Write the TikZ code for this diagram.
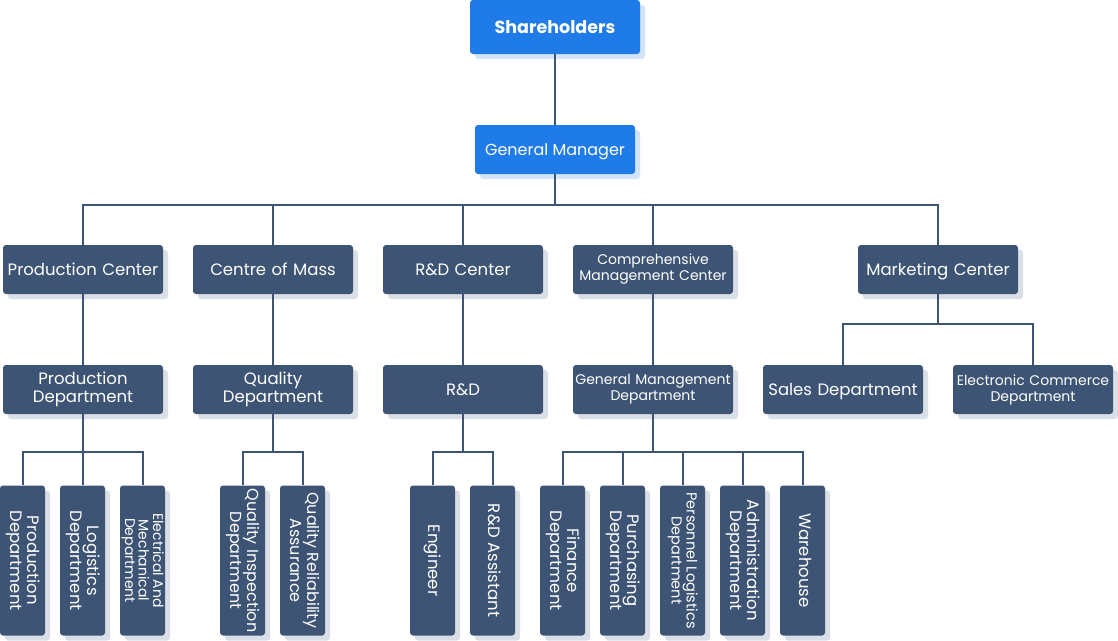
\documentclass[tikz,border=0pt]{standalone}
\usepackage{fontspec}
\usepackage{graphicx}
\setmainfont{Poppins}
\usetikzlibrary{shadows}
\definecolor{boxdark}{HTML}{3D5475}
\definecolor{boxblue}{HTML}{1F7BE8}
\definecolor{shblue}{HTML}{D3E4F9}
\definecolor{shgray}{HTML}{DADFE6}
\tikzset{
  base/.style={rounded corners=3pt, text=white, align=center, inner sep=1pt},
  topbox/.style={base, fill=boxblue, drop shadow={shadow xshift=5pt, shadow yshift=-5pt, fill=shblue, opacity=1}},
  unit/.style={base, fill=boxdark, minimum width=160pt, minimum height=49pt, text width=158pt,
     drop shadow={shadow xshift=5pt, shadow yshift=-5pt, fill=shgray, opacity=1}},
  vunit/.style={base, fill=boxdark, minimum width=45pt, minimum height=150pt,
     drop shadow={shadow xshift=5pt, shadow yshift=-5pt, fill=shgray, opacity=1}},
  conn/.style={draw=boxdark, line width=2pt},
  big/.style={font=\fontsize{16.5}{18}\selectfont},
  oneline/.style={text height=11.5pt, text depth=0pt},
  mid/.style={font=\fontsize{14}{16}\selectfont},
  vbig/.style={font=\fontsize{16.5}{17.5}\selectfont},
}
\newcommand{\vtext}[1]{\rotatebox{-90}{\begin{tabular}{@{}c@{}}#1\end{tabular}}}
\begin{document}
\begin{tikzpicture}[x=1pt,y=-1pt]
\useasboundingbox (0,0) rectangle (1118,640);
% level 1
\node[topbox, minimum width=170pt, minimum height=54pt, text height=12.5pt, text depth=0pt, font=\bfseries\fontsize{17.5}{19}\selectfont] (sh) at (555,27) {Shareholders};
\node[topbox, minimum width=160pt, minimum height=49pt, text height=11.2pt, text depth=0pt, font=\fontsize{16}{18}\selectfont] (gm) at (555,149.5) {General Manager};
% level 2
\node[unit, big, oneline] (pc) at (83,269.5) {Production Center};
\node[unit, big, oneline] (cm) at (273,269.5) {Centre of Mass};
\node[unit, big, oneline] (rc) at (463,269.5) {R\&D Center};
\node[unit, mid] (cmc) at (653,269.5) {Comprehensive\\Management Center};
\node[unit, big, oneline] (mc) at (938,269.5) {Marketing Center};
% level 3
\node[unit, big] (pd) at (83,389.5) {Production\\Department};
\node[unit, big] (qd) at (273,389.5) {Quality\\Department};
\node[unit, big, oneline] (rd) at (463,389.5) {R\&D};
\node[unit, mid] (gmd) at (653,389.5) {General Management\\Department};
\node[unit, big, oneline] (sd) at (843,389.5) {Sales Department};
\node[unit, mid] (ecd) at (1033,389.5) {Electronic Commerce\\Department};
% level 4
\node[vunit, vbig] (p1) at (22.5,560.5) {\vtext{Production\\Department}};
\node[vunit, vbig] (p2) at (82.5,560.5) {\vtext{Logistics\\Department}};
\node[vunit, font=\fontsize{14}{12.5}\selectfont] (p3) at (142.5,560.5) {\vtext{Electrical And\\Mechanical\\Department}};
\node[vunit, font=\fontsize{16}{16.5}\selectfont] (q1) at (242.5,560.5) {\vtext{Quality Inspection\\Department}};
\node[vunit, font=\fontsize{16}{16.5}\selectfont] (q2) at (302.5,560.5) {\vtext{Quality Reliability\\Assurance}};
\node[vunit, vbig] (r1) at (432.5,560.5) {\vtext{Engineer}};
\node[vunit, vbig] (r2) at (492.5,560.5) {\vtext{R\&D Assistant}};
\node[vunit, vbig] (g1) at (562.5,560.5) {\vtext{Finance\\Department}};
\node[vunit, vbig] (g2) at (622.5,560.5) {\vtext{Purchasing\\Department}};
\node[vunit, font=\fontsize{14.5}{15}\selectfont] (g3) at (682.5,560.5) {\vtext{Personnel Logistics\\Department}};
\node[vunit, vbig] (g4) at (742.5,560.5) {\vtext{Administration\\Department}};
\node[vunit, vbig] (g5) at (802.5,560.5) {\vtext{Warehouse}};
% connectors
\draw[conn] (sh.south) -- (gm.north);
\foreach \c in {pc,cm,rc,cmc,mc} \draw[conn] (gm.south) -- ++(0,31) -| (\c.north);
\draw[conn] (pc.south) -- (pd.north);
\draw[conn] (cm.south) -- (qd.north);
\draw[conn] (rc.south) -- (rd.north);
\draw[conn] (cmc.south) -- (gmd.north);
\foreach \c in {sd,ecd} \draw[conn] (mc.south) -- ++(0,30) -| (\c.north);
\foreach \c in {p1,p2,p3} \draw[conn] (pd.south) -- ++(0,38) -| (\c.north);
\foreach \c in {q1,q2} \draw[conn] (qd.south) -- ++(0,38) -| (\c.north);
\foreach \c in {r1,r2} \draw[conn] (rd.south) -- ++(0,38) -| (\c.north);
\foreach \c in {g1,g2,g3,g4,g5} \draw[conn] (gmd.south) -- ++(0,38) -| (\c.north);
\end{tikzpicture}
\end{document}
